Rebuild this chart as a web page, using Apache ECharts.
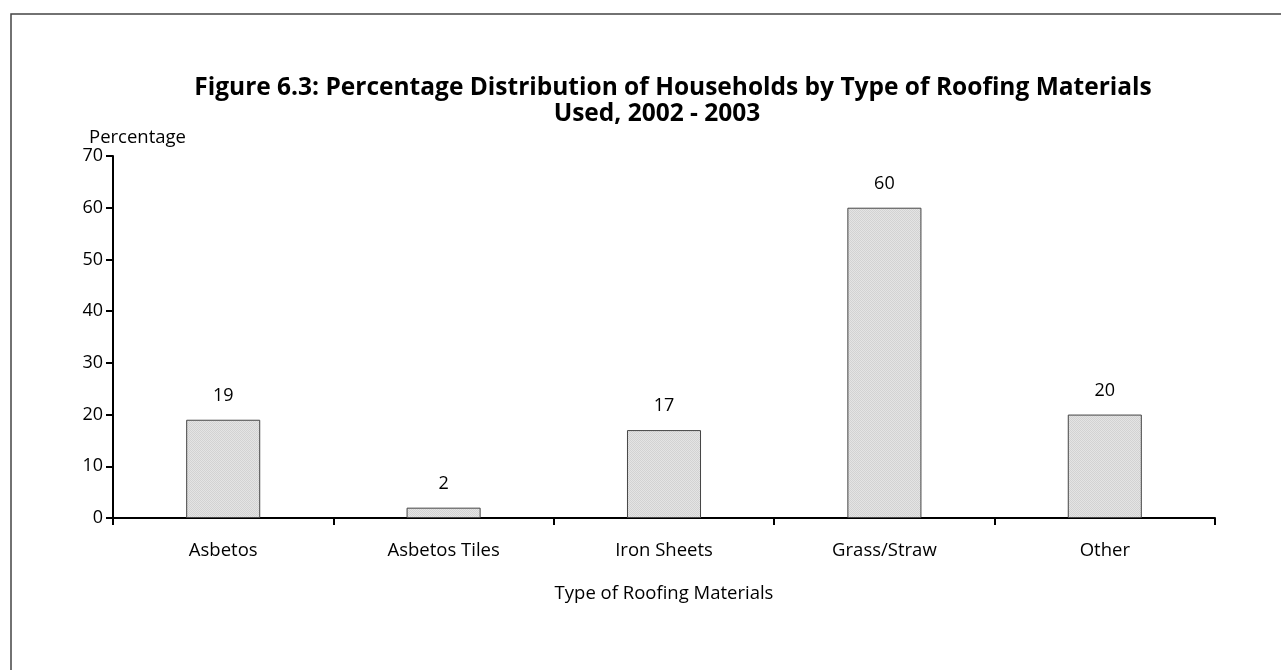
<!DOCTYPE html>
<html>
<head>
<meta charset="utf-8">
<script src="https://cdn.jsdelivr.net/npm/echarts@6/dist/echarts.min.js"></script>
<style>
  html, body { margin: 0; padding: 0; background: #fff; }
  #chart { width: 1281px; height: 670px; }
</style>
</head>
<body>
<div id="chart"></div>
<script>
// Roofing material categories and household shares (%)
const categories = ['Asbetos', 'Asbetos Tiles', 'Iron Sheets', 'Grass/Straw', 'Other'];
const shares = [19, 2, 17, 60, 20];
const yTicks = [0, 10, 20, 30, 40, 50, 60, 70];

// Fine stippled grey fill for the bars
function makeStipple() {
  const c = document.createElement('canvas');
  c.width = 2; c.height = 2;
  const g = c.getContext('2d');
  g.fillStyle = '#e4e4e4';
  g.fillRect(0, 0, 2, 2);
  g.fillStyle = '#d2d2d2';
  g.fillRect(0, 0, 1, 1);
  g.fillRect(1, 1, 1, 1);
  return c;
}

const font = '"Open Sans", Lato, sans-serif';
const chart = echarts.init(document.getElementById('chart'));
chart.setOption({
  animation: false,
  backgroundColor: '#fff',
  textStyle: { fontFamily: font },
  graphic: [{
    type: 'rect',
    shape: { x: 11, y: 14, width: 1300, height: 700 },
    style: { fill: 'none', stroke: '#444', lineWidth: 1.5 },
    silent: true
  }],
  title: [{
    text: 'Figure 6.3: Percentage Distribution of Households by Type of Roofing Materials',
    left: 668,
    top: 71,
    textAlign: 'center',
    textStyle: { fontFamily: font, fontSize: 24.5, fontWeight: 'bold', color: '#000' }
  }, {
    text: 'Used, 2002 - 2003',
    left: 652,
    top: 97,
    textAlign: 'center',
    textStyle: { fontFamily: font, fontSize: 24.5, fontWeight: 'bold', color: '#000' }
  }],
  grid: { left: 113, right: 66, top: 156, bottom: 152, containLabel: false },
  xAxis: {
    type: 'category',
    data: categories,
    name: 'Type of Roofing Materials',
    nameLocation: 'middle',
    nameGap: 66,
    nameTextStyle: { fontFamily: font, fontSize: 18.5, color: '#000' },
    axisLine: { lineStyle: { color: '#000', width: 2 } },
    axisTick: { show: true, length: 7, lineStyle: { color: '#000', width: 2 } },
    axisLabel: { fontFamily: font, fontSize: 18.5, color: '#000', margin: 23 },
    splitLine: { show: false }
  },
  yAxis: {
    type: 'value',
    min: yTicks[0],
    max: yTicks[yTicks.length - 1],
    interval: yTicks[1] - yTicks[0],
    name: 'Percentage',
    nameLocation: 'end',
    nameGap: 8,
    nameTextStyle: { fontFamily: font, fontSize: 18.5, color: '#000', align: 'left', padding: [0, 0, 0, -24] },
    axisLine: { show: true, lineStyle: { color: '#000', width: 2 } },
    axisTick: { show: true, length: 7, lineStyle: { color: '#000', width: 2 } },
    axisLabel: { fontFamily: font, fontSize: 18, color: '#000', margin: 10 },
    splitLine: { show: false }
  },
  series: [{
    type: 'bar',
    data: shares,
    barWidth: '33.6%',
    itemStyle: {
      color: { image: makeStipple(), repeat: 'repeat' },
      borderColor: '#444',
      borderWidth: 1
    },
    label: {
      show: true,
      position: 'top',
      distance: 15,
      fontFamily: font,
      fontSize: 18,
      color: '#000'
    }
  }]
});
</script>
</body>
</html>
